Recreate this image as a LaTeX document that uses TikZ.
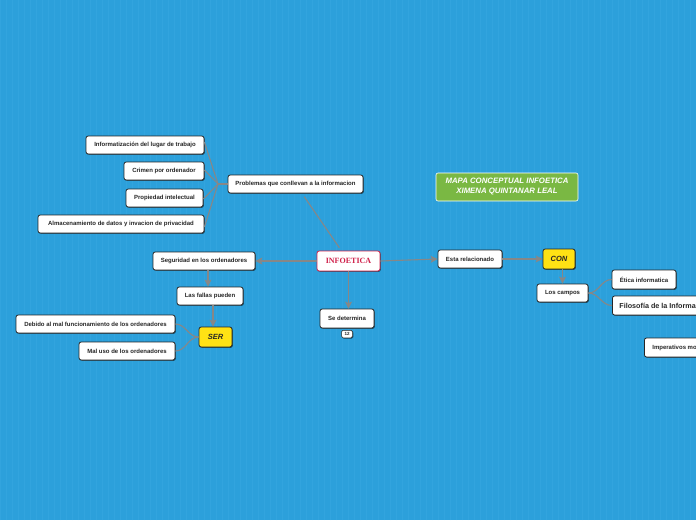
\documentclass[tikz,border=0pt]{standalone}
\usepackage{fontspec}
\newfontfamily\lsans{Liberation Sans}
\newfontfamily\lserif{Liberation Serif}
\usetikzlibrary{arrows.meta,shadows}
\definecolor{bgblue}{RGB}{44,160,219}
\definecolor{gridblue}{RGB}{50,164,222}
\definecolor{conn}{RGB}{135,135,135}
\definecolor{redb}{RGB}{208,32,74}
\definecolor{ylw}{RGB}{255,226,20}
\definecolor{grn}{RGB}{122,184,67}
\tikzset{
  box/.style={draw=black!85, line width=0.8pt, fill=white, rounded corners=2.2pt,
    font=\lsans\bfseries\fontsize{6}{7}\selectfont, text=black!85, inner sep=1pt,
    minimum height=18pt, drop shadow={shadow xshift=0.8pt, shadow yshift=-0.8pt, opacity=0.55, fill=black}},
  ybox/.style={box, fill=ylw, font=\lsans\bfseries\itshape\fontsize{7.5}{8}\selectfont, minimum height=20pt},
  ln/.style={draw=conn, line width=1.1pt},
  arr/.style={ln, -{Stealth[length=7pt,width=7pt,inset=1.5pt,fill=conn]}},
}
\begin{document}
\begin{tikzpicture}[x=1pt,y=-1pt]
\useasboundingbox (0,0) rectangle (696,520);
\clip (0,0) rectangle (696,520);
\fill[bgblue] (0,0) rectangle (696,520);
\draw[gridblue, line width=0.3pt, step=6] (0,0) grid (696,520);

% nodes
\node[box, minimum width=118pt] (inf) at (145,145) {Informatización del lugar de trabajo};
\node[box, minimum width=80pt] (cri) at (164,171) {Crimen por ordenador};
\node[box, minimum width=77pt] (pro) at (164.5,198) {Propiedad intelectual};
\node[box, minimum width=166pt] (alm) at (121,224) {Almacenamiento de datos y invacion de privacidad};
\node[box, minimum width=135pt] (prob) at (295.5,184) {Problemas que conllevan a la informacion};
\node[box, draw=redb, minimum width=63pt, minimum height=20pt, text=redb,
      font=\lserif\bfseries\fontsize{8}{9}\selectfont] (info) at (348.5,261) {INFOETICA};
\node[box, minimum width=102pt] (seg) at (204,261) {Seguridad en los ordenadores};
\node[box, minimum width=66pt] (fal) at (210,296) {Las fallas pueden};
\node[ybox, minimum width=33pt] (ser) at (215.5,337) {SER};
\node[box, minimum width=159pt] (deb) at (95.5,324) {Debido al mal funcionamiento de los ordenadores};
\node[box, minimum width=96pt] (mal) at (127,351) {Mal uso de los ordenadores};
\node[box, minimum width=54pt, minimum height=19pt] (sed) at (347,318.5) {Se determina};
\node[box, line width=0.5pt, minimum width=11pt, minimum height=7.5pt, inner sep=0.5pt,
      rounded corners=1.5pt, drop shadow={opacity=0},
      font=\lsans\bfseries\fontsize{4.5}{4.5}\selectfont] (num) at (347,334) {12};
\node[box, minimum width=64pt] (est) at (470,259) {Esta relacionado};
\node[ybox, minimum width=32pt] (con) at (559,259) {CON};
\node[box, minimum width=51pt] (cam) at (562.5,293) {Los campos};
\node[box, minimum width=64pt, minimum height=19pt] (eti) at (644,279.5) {Ética informatica};
\node[box, anchor=west, minimum height=19pt, inner xsep=7pt,
      font=\lsans\bfseries\fontsize{7.2}{8}\selectfont] (fil) at (612,305.5) {Filosofía de la Información};
\node[box, anchor=west, minimum height=19pt, inner xsep=8pt] (imp) at (644,347.5) {Imperativos morales};
\node[draw=white, line width=0.6pt, fill=grn, rounded corners=2pt, minimum width=142pt, minimum height=28pt,
      align=center, text=white, inner sep=1pt,
      font=\lsans\bfseries\itshape\fontsize{7.8}{10}\selectfont] (title) at (507,187)
      {MAPA CONCEPTUAL INFOETICA\\XIMENA QUINTANAR LEAL};

% connectors
\coordinate (J) at (218,184);
\draw[ln] (prob.west) -- (J);
\draw[ln] (J) -- ([yshift=3pt]inf.east);
\draw[ln] (J) -- ([yshift=1pt]cri.east);
\draw[ln] (J) -- ([yshift=-1pt]pro.east);
\draw[ln] (J) -- ([yshift=-3pt]alm.east);
\draw[ln, shorten <=4pt, shorten >=3.5pt] (prob) -- (info);
\draw[arr] (info.west) -- (seg.east);
\draw[arr] ([xshift=4pt]seg.south) -- ([xshift=-2pt]fal.north);
\draw[arr] ([xshift=3pt]fal.south) -- ([xshift=-2.5pt]ser.north);
\draw[ln] (ser.west) to[out=180,in=0] (deb.east);
\draw[ln] (ser.west) to[out=180,in=0] (mal.east);
\draw[arr] (info.south) -- (sed.north -| info.south);
\draw[arr] (info.east) -- (est.west);
\draw[arr] (est.east) -- (con.west);
\draw[arr] ([xshift=3.5pt]con.south) -- (cam.north);
\draw[ln] (cam.east) to[out=0,in=180] (eti.west);
\draw[ln] (cam.east) to[out=0,in=180] (fil.west);
\end{tikzpicture}
\end{document}
